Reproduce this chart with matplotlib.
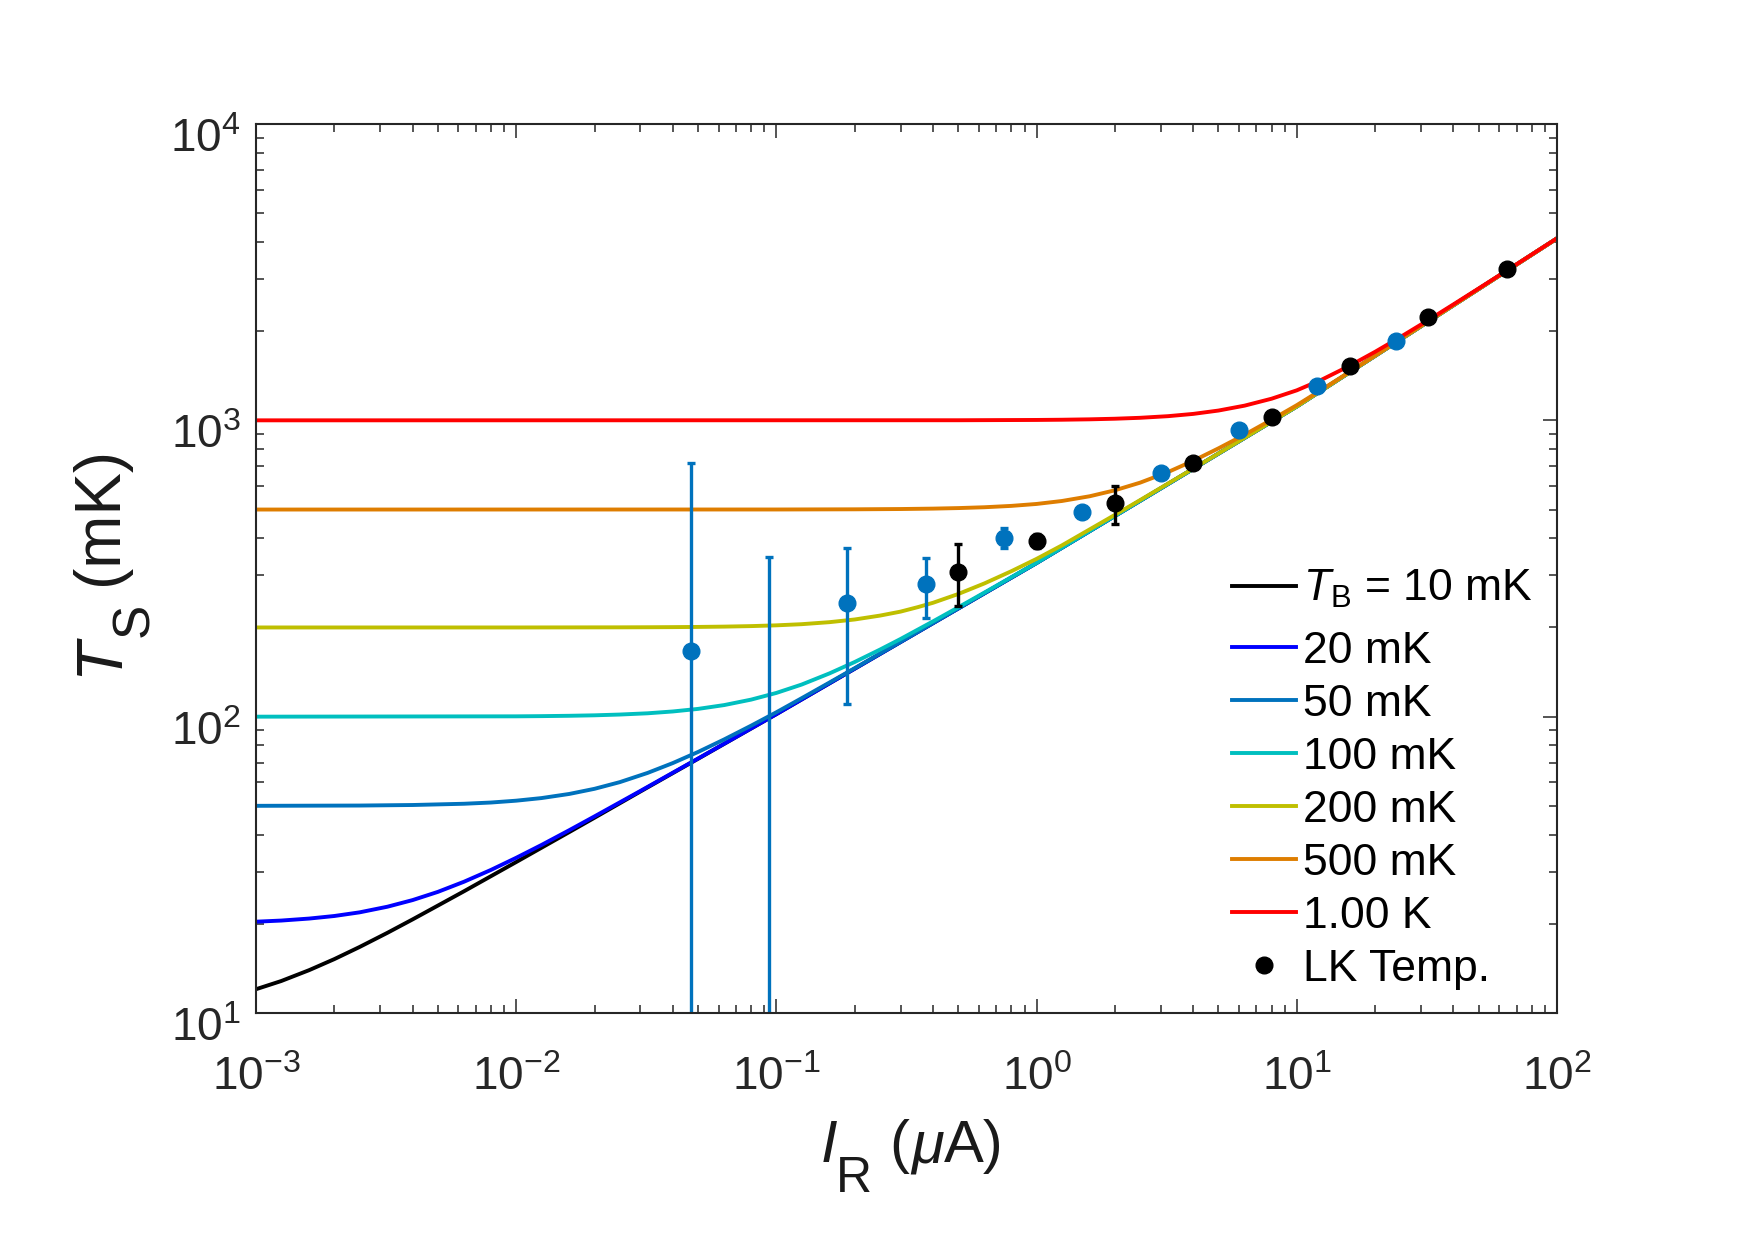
import matplotlib
matplotlib.use("Agg")
import matplotlib.pyplot as plt
import matplotlib.transforms as mtransforms
from matplotlib.lines import Line2D
from matplotlib.ticker import LogLocator, NullFormatter, LogFormatterMathtext

plt.rcParams['font.family'] = ['Liberation Sans', 'DejaVu Sans']
plt.rcParams['mathtext.fontset'] = 'custom'
plt.rcParams['mathtext.rm'] = 'Liberation Sans'
plt.rcParams['mathtext.it'] = 'Liberation Sans:italic'
plt.rcParams['mathtext.bf'] = 'Liberation Sans:bold'

# model curves (current in uA, temperature in mK)
I_10mK = [0.001, 0.00125, 0.0016, 0.002, 0.0025, 0.0032, 0.004, 0.005, 0.0063, 0.008, 0.01,
          0.0125, 0.016, 0.02, 0.03, 0.05, 0.1, 0.2, 0.3, 0.5, 1, 2, 3, 5, 10, 20, 30, 50, 100]
T_10mK = [12.03, 12.82, 13.95, 15.20, 16.70, 18.65, 20.70, 23.04, 25.75, 28.96, 32.32,
          36.1, 40.8, 45.6, 55.9, 72.1, 102.0, 145.2, 178.6, 231.8, 330.1, 475.8, 589.3, 772.1,
          1114, 1650.6, 2077, 2775, 4111]

I_20mK = [0.001, 0.00125, 0.0016, 0.002, 0.0025, 0.0032, 0.004, 0.005, 0.0063, 0.008, 0.01,
          0.0125, 0.016, 0.02, 0.03, 0.05, 0.1, 0.2, 0.3, 0.5, 1, 2, 3, 5, 10, 20, 30, 50, 100]
T_20mK = [20.33, 20.51, 20.83, 21.25, 21.86, 22.84, 24.05, 25.63, 27.73, 30.40, 33.40,
          36.89, 41.40, 46.08, 56.14, 72.24, 102.0, 145.2, 178.6, 231.8, 330.1, 475.8, 589.3, 772.1,
          1114, 1650.6, 2077, 2775, 4111]

I_50mK = [0.001, 0.0025, 0.004, 0.0063, 0.008, 0.01, 0.0125, 0.016, 0.02, 0.025, 0.032, 0.04,
          0.05, 0.063, 0.08, 0.1, 0.125, 0.16, 0.2, 0.25, 0.3, 0.5, 1, 2, 3, 5, 10, 20, 30, 50, 100]
T_50mK = [50.02, 50.13, 50.34, 50.83, 51.32, 52.06, 53.12, 54.86, 57.09, 60.12, 64.60, 69.74,
          76.02, 83.80, 93.27, 103.49, 115.4, 130.4, 145.8, 163.2, 178.9, 231.9, 330.1, 475.8,
          589.3, 772.1, 1114, 1650.6, 2077, 2775, 4111]

I_100mK = [0.001, 0.01, 0.0125, 0.016, 0.02, 0.025, 0.032, 0.04, 0.05, 0.063, 0.08, 0.1, 0.125,
           0.16, 0.2, 0.25, 0.3, 0.4, 0.5, 0.63, 0.8, 1, 2, 3, 5, 10, 20, 30, 50, 100]
T_100mK = [100.0, 100.27, 100.42, 100.69, 101.06, 101.67, 102.66, 104.13, 106.23, 109.43, 114.18,
           120.27, 128.33, 139.98, 152.93, 168.37, 182.86, 209.75, 233.9, 262.3, 295.7, 330.4,
           475.9, 589.3, 772.1, 1114, 1650.6, 2077, 2775, 4111]

I_200mK = [0.001, 0.01, 0.025, 0.032, 0.04, 0.05, 0.063, 0.08, 0.1, 0.125, 0.16, 0.2, 0.25, 0.3,
           0.35, 0.4, 0.5, 0.63, 0.8, 1, 1.25, 1.6, 2, 2.5, 3.2, 4, 5, 10, 20, 30, 50, 100]
T_200mK = [200.0, 200.01, 200.21, 200.35, 200.54, 200.84, 201.33, 202.13, 203.34, 205.16, 208.41,
           212.8, 219.3, 226.2, 234.3, 242.3, 259.4, 281.6, 309.7, 340.8, 378.3, 428.6, 479.8,
           538.2, 611.8, 687.4, 772.9, 1114, 1650.6, 2077, 2775, 4111]

I_500mK = [0.001, 0.1, 0.2, 0.3, 0.4, 0.5, 0.63, 0.8, 1, 1.25, 1.6, 2, 2.5, 3.2, 4, 5, 6.3, 8,
           10, 12.5, 16, 20, 30, 50, 100]
T_500mK = [500.0, 500.2, 500.9, 502.0, 503.6, 505.7, 509.0, 514.4, 522.2, 534.3, 554.4, 580.7,
           616.2, 669.1, 730.2, 804.4, 894.4, 1005.1, 1125.2, 1271.4, 1459.6, 1654, 2081, 2775.5, 4111]

I_1K = [0.001, 0.5, 1, 1.25, 1.6, 2, 2.5, 3.2, 4, 5, 6.3, 8, 10, 12.5, 16, 20, 25, 32, 40, 50,
        63, 80, 100]
T_1K = [1000.0, 1000.7, 1003.0, 1004.7, 1007.9, 1012.6, 1019.9, 1032.9, 1051.3, 1079.0, 1120.9,
        1183.0, 1262.6, 1373.1, 1529.5, 1703.3, 1909.9, 2178.4, 2462.1, 2786.6, 3170.9, 3627.9, 4114.9]

curves = [(I_10mK, T_10mK), (I_20mK, T_20mK), (I_50mK, T_50mK), (I_100mK, T_100mK),
          (I_200mK, T_200mK), (I_500mK, T_500mK), (I_1K, T_1K)]
curve_labels = [r'$T_\mathrm{B}$ = 10 mK', '20 mK', '50 mK', '100 mK', '200 mK', '500 mK', '1.00 K']
curve_colors = ['#000000', '#0000FF', '#0072BD', '#00BFBF', '#BFBF00', '#DE7D00', '#FF0000']

# measured points (blue set)
I_blue = [0.046875, 0.09375, 0.1875, 0.375, 0.75, 1.5, 3, 6, 12, 24]
T_blue = [167, 5, 241, 280, 402, 489, 663, 929, 1306, 1854]
lo_blue = [1, 1, 110, 215, 372, 472, 648, 910, 1285, 1825]
hi_blue = [716, 347, 372, 344, 432, 506, 678, 948, 1327, 1883]

# LK temperature points
I_lk = [0.5, 1, 2, 4, 8, 16, 32, 64]
T_lk = [307, 392, 525, 716, 1024, 1531, 2228, 3246]
lo_lk = [237, 370, 447, 700, 1005, 1505, 2195, 3205]
hi_lk = [382, 415, 601, 732, 1043, 1557, 2261, 3287]

W, H = 1755, 1240
fig = plt.figure(figsize=(W / 100, H / 100), dpi=100)
ax = fig.add_axes([0.14587, 0.18306, 0.74131, 0.71694])

handles = []
for (I, T), c, lab in zip(curves, curve_colors, curve_labels):
    h, = ax.plot(I, T, color=c, lw=2.8, label=lab)
    handles.append(h)

ax.errorbar(I_blue, T_blue,
            yerr=[[t - l for t, l in zip(T_blue, lo_blue)], [h - t for t, h in zip(T_blue, hi_blue)]],
            fmt='o', color='#0072BD', ms=12, elinewidth=2.4, capsize=3, capthick=2.4)
ax.errorbar(I_lk, T_lk,
            yerr=[[t - l for t, l in zip(T_lk, lo_lk)], [h - t for t, h in zip(T_lk, hi_lk)]],
            fmt='o', color='black', ms=12, elinewidth=2.4, capsize=3, capthick=2.4)

ax.set_xscale('log')
ax.set_yscale('log')
ax.set_xlim(1e-3, 1e2)
ax.set_ylim(10, 1e4)

for axis in (ax.xaxis, ax.yaxis):
    axis.set_major_locator(LogLocator(base=10, numticks=20))
    axis.set_minor_locator(LogLocator(base=10, subs=range(2, 10), numticks=20))
    axis.set_major_formatter(LogFormatterMathtext())
    axis.set_minor_formatter(NullFormatter())

axcol = '#262626'
for s in ax.spines.values():
    s.set_linewidth(1.5)
    s.set_color(axcol)
ax.tick_params(which='both', direction='in', top=True, right=True, colors=axcol, width=1.1)
ax.tick_params(which='major', length=10, labelsize=33)
ax.tick_params(which='minor', length=5.8)
ax.tick_params(axis='y', which='major', pad=11)
ax.tick_params(axis='x', which='major', pad=31)

# y tick labels sit a little below their ticks in the original
shift = mtransforms.ScaledTranslation(0, -0.11, fig.dpi_scale_trans)
for lbl in ax.yaxis.get_majorticklabels():
    lbl.set_transform(lbl.get_transform() + shift)


def ftxt(x, y, s, size, style='normal', rot=0):
    # place text by pixel position (x from left, y from top) at its baseline start
    fig.text(x / W, 1 - y / H, s, fontsize=size, style=style, color='#1a1a1a',
             ha='left', va='baseline', rotation=rot, rotation_mode='anchor')


# x label: I_R (uA)
ftxt(821, 1162, 'I', 43, style='italic')
ftxt(836, 1192, 'R', 36)
ftxt(889, 1162, '(', 43)
ftxt(910, 1162, r'$\mu$', 43)
ftxt(944, 1162, 'A)', 43)
# y label: T_S (mK)
ftxt(117, 676, 'T', 47, style='italic', rot=90)
ftxt(148, 637, 'S', 37, rot=90)
ftxt(117, 585, '(mK)', 46, rot=90)

leg_kw = dict(frameon=False, fontsize=32, handlelength=1.45, handletextpad=0.14,
              labelspacing=0.27, borderpad=0, borderaxespad=0, bbox_transform=fig.transFigure)
leg1 = ax.legend(handles[:1], curve_labels[:1], loc='upper left', bbox_to_anchor=(0.702, 0.5417), **leg_kw)
ax.add_artist(leg1)
lk_handle = Line2D([], [], ls='none', marker='o', color='black', ms=12)
ax.legend(handles[1:] + [lk_handle], curve_labels[1:] + ['LK Temp.'],
          loc='upper left', bbox_to_anchor=(0.702, 0.4912), **leg_kw)

fig.savefig('out.png', dpi=100)
